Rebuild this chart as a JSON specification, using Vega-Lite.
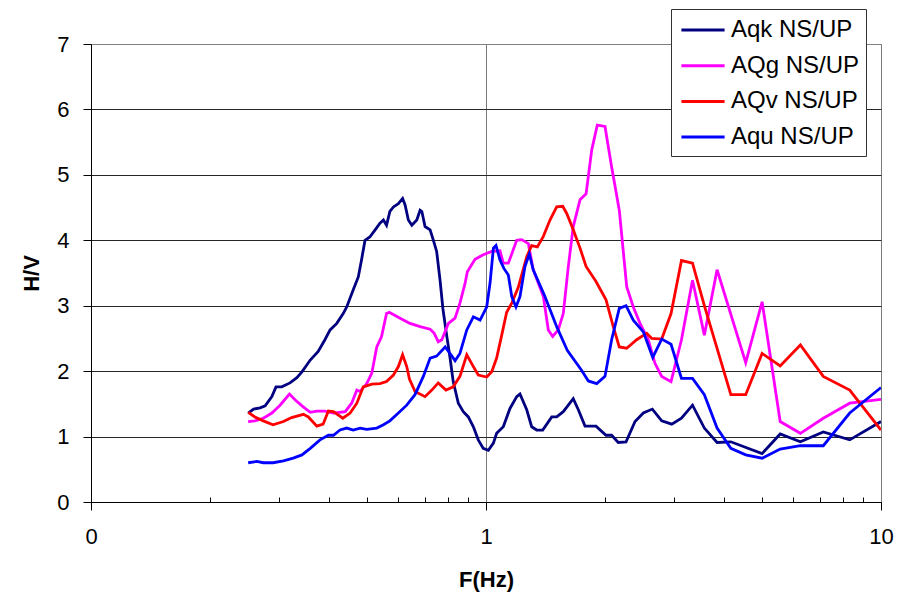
{
  "$schema": "https://vega.github.io/schema/vega-lite/v6.json",
  "width": 790,
  "height": 458,
  "autosize": {"type": "none"},
  "padding": {"left": 91, "top": 44, "right": 31, "bottom": 97},
  "background": "white",
  "config": {
    "font": "Liberation Sans",
    "view": {"stroke": "#808080", "strokeWidth": 1},
    "axis": {
      "labelFont": "Liberation Sans",
      "titleFont": "Liberation Sans",
      "labelColor": "#000",
      "titleColor": "#000",
      "domainColor": "#000",
      "tickColor": "#000"
    }
  },
  "data": {
    "values": [
      {"s": "Aqk NS/UP", "f": 0.25, "hv": 1.36}, {"s": "Aqk NS/UP", "f": 0.258, "hv": 1.42}, {"s": "Aqk NS/UP", "f": 0.268, "hv": 1.44},
      {"s": "Aqk NS/UP", "f": 0.276, "hv": 1.47}, {"s": "Aqk NS/UP", "f": 0.287, "hv": 1.61}, {"s": "Aqk NS/UP", "f": 0.294, "hv": 1.76},
      {"s": "Aqk NS/UP", "f": 0.304, "hv": 1.76}, {"s": "Aqk NS/UP", "f": 0.319, "hv": 1.82}, {"s": "Aqk NS/UP", "f": 0.332, "hv": 1.9},
      {"s": "Aqk NS/UP", "f": 0.342, "hv": 1.99}, {"s": "Aqk NS/UP", "f": 0.359, "hv": 2.17}, {"s": "Aqk NS/UP", "f": 0.376, "hv": 2.3},
      {"s": "Aqk NS/UP", "f": 0.391, "hv": 2.48}, {"s": "Aqk NS/UP", "f": 0.403, "hv": 2.63}, {"s": "Aqk NS/UP", "f": 0.419, "hv": 2.73},
      {"s": "Aqk NS/UP", "f": 0.435, "hv": 2.88}, {"s": "Aqk NS/UP", "f": 0.444, "hv": 2.98}, {"s": "Aqk NS/UP", "f": 0.461, "hv": 3.24},
      {"s": "Aqk NS/UP", "f": 0.475, "hv": 3.44}, {"s": "Aqk NS/UP", "f": 0.484, "hv": 3.7}, {"s": "Aqk NS/UP", "f": 0.494, "hv": 4.0},
      {"s": "Aqk NS/UP", "f": 0.508, "hv": 4.05}, {"s": "Aqk NS/UP", "f": 0.524, "hv": 4.16}, {"s": "Aqk NS/UP", "f": 0.539, "hv": 4.26},
      {"s": "Aqk NS/UP", "f": 0.55, "hv": 4.31}, {"s": "Aqk NS/UP", "f": 0.56, "hv": 4.23}, {"s": "Aqk NS/UP", "f": 0.571, "hv": 4.44},
      {"s": "Aqk NS/UP", "f": 0.583, "hv": 4.51}, {"s": "Aqk NS/UP", "f": 0.6, "hv": 4.56}, {"s": "Aqk NS/UP", "f": 0.615, "hv": 4.64},
      {"s": "Aqk NS/UP", "f": 0.624, "hv": 4.54}, {"s": "Aqk NS/UP", "f": 0.636, "hv": 4.31}, {"s": "Aqk NS/UP", "f": 0.649, "hv": 4.23},
      {"s": "Aqk NS/UP", "f": 0.668, "hv": 4.31}, {"s": "Aqk NS/UP", "f": 0.681, "hv": 4.46}, {"s": "Aqk NS/UP", "f": 0.688, "hv": 4.44},
      {"s": "Aqk NS/UP", "f": 0.701, "hv": 4.21}, {"s": "Aqk NS/UP", "f": 0.722, "hv": 4.16}, {"s": "Aqk NS/UP", "f": 0.736, "hv": 4.0},
      {"s": "Aqk NS/UP", "f": 0.75, "hv": 3.83}, {"s": "Aqk NS/UP", "f": 0.765, "hv": 3.39}, {"s": "Aqk NS/UP", "f": 0.778, "hv": 2.95},
      {"s": "Aqk NS/UP", "f": 0.795, "hv": 2.55}, {"s": "Aqk NS/UP", "f": 0.811, "hv": 2.2}, {"s": "Aqk NS/UP", "f": 0.826, "hv": 1.84},
      {"s": "Aqk NS/UP", "f": 0.851, "hv": 1.51}, {"s": "Aqk NS/UP", "f": 0.876, "hv": 1.38}, {"s": "Aqk NS/UP", "f": 0.902, "hv": 1.3},
      {"s": "Aqk NS/UP", "f": 0.929, "hv": 1.15}, {"s": "Aqk NS/UP", "f": 0.956, "hv": 0.95}, {"s": "Aqk NS/UP", "f": 0.984, "hv": 0.82},
      {"s": "Aqk NS/UP", "f": 1.014, "hv": 0.79}, {"s": "Aqk NS/UP", "f": 1.044, "hv": 0.9}, {"s": "Aqk NS/UP", "f": 1.064, "hv": 1.05},
      {"s": "Aqk NS/UP", "f": 1.106, "hv": 1.15}, {"s": "Aqk NS/UP", "f": 1.15, "hv": 1.43}, {"s": "Aqk NS/UP", "f": 1.196, "hv": 1.61},
      {"s": "Aqk NS/UP", "f": 1.219, "hv": 1.65}, {"s": "Aqk NS/UP", "f": 1.268, "hv": 1.41}, {"s": "Aqk NS/UP", "f": 1.305, "hv": 1.15},
      {"s": "Aqk NS/UP", "f": 1.344, "hv": 1.1}, {"s": "Aqk NS/UP", "f": 1.392, "hv": 1.1}, {"s": "Aqk NS/UP", "f": 1.467, "hv": 1.3},
      {"s": "Aqk NS/UP", "f": 1.51, "hv": 1.3}, {"s": "Aqk NS/UP", "f": 1.569, "hv": 1.38}, {"s": "Aqk NS/UP", "f": 1.663, "hv": 1.58},
      {"s": "Aqk NS/UP", "f": 1.713, "hv": 1.41}, {"s": "Aqk NS/UP", "f": 1.781, "hv": 1.16}, {"s": "Aqk NS/UP", "f": 1.899, "hv": 1.16},
      {"s": "Aqk NS/UP", "f": 2.013, "hv": 1.02}, {"s": "Aqk NS/UP", "f": 2.08, "hv": 1.02}, {"s": "Aqk NS/UP", "f": 2.162, "hv": 0.91},
      {"s": "Aqk NS/UP", "f": 2.262, "hv": 0.92}, {"s": "Aqk NS/UP", "f": 2.384, "hv": 1.23}, {"s": "Aqk NS/UP", "f": 2.502, "hv": 1.36},
      {"s": "Aqk NS/UP", "f": 2.637, "hv": 1.42}, {"s": "Aqk NS/UP", "f": 2.785, "hv": 1.24}, {"s": "Aqk NS/UP", "f": 2.953, "hv": 1.19},
      {"s": "Aqk NS/UP", "f": 3.125, "hv": 1.28}, {"s": "Aqk NS/UP", "f": 3.333, "hv": 1.48}, {"s": "Aqk NS/UP", "f": 3.571, "hv": 1.13},
      {"s": "Aqk NS/UP", "f": 3.846, "hv": 0.91}, {"s": "Aqk NS/UP", "f": 4.167, "hv": 0.92}, {"s": "Aqk NS/UP", "f": 5.0, "hv": 0.74},
      {"s": "Aqk NS/UP", "f": 5.556, "hv": 1.04}, {"s": "Aqk NS/UP", "f": 6.25, "hv": 0.92}, {"s": "Aqk NS/UP", "f": 7.143, "hv": 1.07},
      {"s": "Aqk NS/UP", "f": 8.333, "hv": 0.95}, {"s": "Aqk NS/UP", "f": 10, "hv": 1.23},

      {"s": "AQg NS/UP", "f": 0.25, "hv": 1.23}, {"s": "AQg NS/UP", "f": 0.26, "hv": 1.24}, {"s": "AQg NS/UP", "f": 0.273, "hv": 1.28},
      {"s": "AQg NS/UP", "f": 0.287, "hv": 1.36}, {"s": "AQg NS/UP", "f": 0.301, "hv": 1.48}, {"s": "AQg NS/UP", "f": 0.318, "hv": 1.65},
      {"s": "AQg NS/UP", "f": 0.329, "hv": 1.56}, {"s": "AQg NS/UP", "f": 0.342, "hv": 1.47}, {"s": "AQg NS/UP", "f": 0.359, "hv": 1.37},
      {"s": "AQg NS/UP", "f": 0.373, "hv": 1.39}, {"s": "AQg NS/UP", "f": 0.391, "hv": 1.39}, {"s": "AQg NS/UP", "f": 0.411, "hv": 1.36},
      {"s": "AQg NS/UP", "f": 0.44, "hv": 1.38}, {"s": "AQg NS/UP", "f": 0.457, "hv": 1.51}, {"s": "AQg NS/UP", "f": 0.471, "hv": 1.71},
      {"s": "AQg NS/UP", "f": 0.48, "hv": 1.69}, {"s": "AQg NS/UP", "f": 0.499, "hv": 1.81}, {"s": "AQg NS/UP", "f": 0.514, "hv": 1.97},
      {"s": "AQg NS/UP", "f": 0.529, "hv": 2.37}, {"s": "AQg NS/UP", "f": 0.544, "hv": 2.53}, {"s": "AQg NS/UP", "f": 0.56, "hv": 2.88},
      {"s": "AQg NS/UP", "f": 0.569, "hv": 2.9}, {"s": "AQg NS/UP", "f": 0.606, "hv": 2.81}, {"s": "AQg NS/UP", "f": 0.642, "hv": 2.73},
      {"s": "AQg NS/UP", "f": 0.681, "hv": 2.68}, {"s": "AQg NS/UP", "f": 0.722, "hv": 2.64}, {"s": "AQg NS/UP", "f": 0.739, "hv": 2.58},
      {"s": "AQg NS/UP", "f": 0.757, "hv": 2.45}, {"s": "AQg NS/UP", "f": 0.773, "hv": 2.48}, {"s": "AQg NS/UP", "f": 0.803, "hv": 2.73},
      {"s": "AQg NS/UP", "f": 0.835, "hv": 2.81}, {"s": "AQg NS/UP", "f": 0.859, "hv": 3.04}, {"s": "AQg NS/UP", "f": 0.885, "hv": 3.34},
      {"s": "AQg NS/UP", "f": 0.897, "hv": 3.52}, {"s": "AQg NS/UP", "f": 0.938, "hv": 3.71}, {"s": "AQg NS/UP", "f": 0.984, "hv": 3.78},
      {"s": "AQg NS/UP", "f": 1.034, "hv": 3.83}, {"s": "AQg NS/UP", "f": 1.085, "hv": 3.84}, {"s": "AQg NS/UP", "f": 1.106, "hv": 3.65},
      {"s": "AQg NS/UP", "f": 1.139, "hv": 3.65}, {"s": "AQg NS/UP", "f": 1.196, "hv": 4.0}, {"s": "AQg NS/UP", "f": 1.231, "hv": 4.01},
      {"s": "AQg NS/UP", "f": 1.28, "hv": 3.95}, {"s": "AQg NS/UP", "f": 1.317, "hv": 3.55}, {"s": "AQg NS/UP", "f": 1.397, "hv": 3.14},
      {"s": "AQg NS/UP", "f": 1.438, "hv": 2.63}, {"s": "AQg NS/UP", "f": 1.475, "hv": 2.53}, {"s": "AQg NS/UP", "f": 1.524, "hv": 2.63},
      {"s": "AQg NS/UP", "f": 1.569, "hv": 2.88}, {"s": "AQg NS/UP", "f": 1.616, "hv": 3.6}, {"s": "AQg NS/UP", "f": 1.663, "hv": 4.21},
      {"s": "AQg NS/UP", "f": 1.73, "hv": 4.62}, {"s": "AQg NS/UP", "f": 1.792, "hv": 4.71}, {"s": "AQg NS/UP", "f": 1.852, "hv": 5.38},
      {"s": "AQg NS/UP", "f": 1.913, "hv": 5.76}, {"s": "AQg NS/UP", "f": 2.001, "hv": 5.74}, {"s": "AQg NS/UP", "f": 2.08, "hv": 5.12},
      {"s": "AQg NS/UP", "f": 2.175, "hv": 4.46}, {"s": "AQg NS/UP", "f": 2.271, "hv": 3.29}, {"s": "AQg NS/UP", "f": 2.36, "hv": 2.98},
      {"s": "AQg NS/UP", "f": 2.454, "hv": 2.73}, {"s": "AQg NS/UP", "f": 2.576, "hv": 2.48}, {"s": "AQg NS/UP", "f": 2.678, "hv": 2.12},
      {"s": "AQg NS/UP", "f": 2.785, "hv": 1.92}, {"s": "AQg NS/UP", "f": 2.941, "hv": 1.84}, {"s": "AQg NS/UP", "f": 3.125, "hv": 2.48},
      {"s": "AQg NS/UP", "f": 3.333, "hv": 3.39}, {"s": "AQg NS/UP", "f": 3.571, "hv": 2.55}, {"s": "AQg NS/UP", "f": 3.846, "hv": 3.55},
      {"s": "AQg NS/UP", "f": 4.545, "hv": 2.13}, {"s": "AQg NS/UP", "f": 5.0, "hv": 3.06}, {"s": "AQg NS/UP", "f": 5.556, "hv": 1.23},
      {"s": "AQg NS/UP", "f": 6.25, "hv": 1.05}, {"s": "AQg NS/UP", "f": 7.143, "hv": 1.28}, {"s": "AQg NS/UP", "f": 8.333, "hv": 1.51},
      {"s": "AQg NS/UP", "f": 10, "hv": 1.57},

      {"s": "AQv NS/UP", "f": 0.25, "hv": 1.37}, {"s": "AQv NS/UP", "f": 0.26, "hv": 1.3}, {"s": "AQv NS/UP", "f": 0.273, "hv": 1.24},
      {"s": "AQv NS/UP", "f": 0.289, "hv": 1.18}, {"s": "AQv NS/UP", "f": 0.307, "hv": 1.23}, {"s": "AQv NS/UP", "f": 0.322, "hv": 1.29},
      {"s": "AQv NS/UP", "f": 0.345, "hv": 1.34}, {"s": "AQv NS/UP", "f": 0.355, "hv": 1.3}, {"s": "AQv NS/UP", "f": 0.373, "hv": 1.16},
      {"s": "AQv NS/UP", "f": 0.387, "hv": 1.19}, {"s": "AQv NS/UP", "f": 0.399, "hv": 1.39}, {"s": "AQv NS/UP", "f": 0.411, "hv": 1.38},
      {"s": "AQv NS/UP", "f": 0.434, "hv": 1.28}, {"s": "AQv NS/UP", "f": 0.453, "hv": 1.36}, {"s": "AQv NS/UP", "f": 0.471, "hv": 1.51},
      {"s": "AQv NS/UP", "f": 0.489, "hv": 1.76}, {"s": "AQv NS/UP", "f": 0.514, "hv": 1.8}, {"s": "AQv NS/UP", "f": 0.539, "hv": 1.81},
      {"s": "AQv NS/UP", "f": 0.56, "hv": 1.84}, {"s": "AQv NS/UP", "f": 0.583, "hv": 1.94}, {"s": "AQv NS/UP", "f": 0.6, "hv": 2.07},
      {"s": "AQv NS/UP", "f": 0.615, "hv": 2.25}, {"s": "AQv NS/UP", "f": 0.63, "hv": 2.07}, {"s": "AQv NS/UP", "f": 0.64, "hv": 1.88},
      {"s": "AQv NS/UP", "f": 0.661, "hv": 1.69}, {"s": "AQv NS/UP", "f": 0.701, "hv": 1.61}, {"s": "AQv NS/UP", "f": 0.729, "hv": 1.71},
      {"s": "AQv NS/UP", "f": 0.757, "hv": 1.82}, {"s": "AQv NS/UP", "f": 0.792, "hv": 1.71}, {"s": "AQv NS/UP", "f": 0.826, "hv": 1.76},
      {"s": "AQv NS/UP", "f": 0.859, "hv": 1.92}, {"s": "AQv NS/UP", "f": 0.894, "hv": 2.25}, {"s": "AQv NS/UP", "f": 0.929, "hv": 2.07},
      {"s": "AQv NS/UP", "f": 0.956, "hv": 1.94}, {"s": "AQv NS/UP", "f": 1.004, "hv": 1.91}, {"s": "AQv NS/UP", "f": 1.034, "hv": 1.99},
      {"s": "AQv NS/UP", "f": 1.064, "hv": 2.2}, {"s": "AQv NS/UP", "f": 1.096, "hv": 2.55}, {"s": "AQv NS/UP", "f": 1.128, "hv": 2.9},
      {"s": "AQv NS/UP", "f": 1.162, "hv": 3.04}, {"s": "AQv NS/UP", "f": 1.207, "hv": 3.28}, {"s": "AQv NS/UP", "f": 1.268, "hv": 3.75},
      {"s": "AQv NS/UP", "f": 1.305, "hv": 3.92}, {"s": "AQv NS/UP", "f": 1.349, "hv": 3.9}, {"s": "AQv NS/UP", "f": 1.397, "hv": 4.06},
      {"s": "AQv NS/UP", "f": 1.452, "hv": 4.31}, {"s": "AQv NS/UP", "f": 1.51, "hv": 4.51}, {"s": "AQv NS/UP", "f": 1.564, "hv": 4.52},
      {"s": "AQv NS/UP", "f": 1.601, "hv": 4.41}, {"s": "AQv NS/UP", "f": 1.663, "hv": 4.16}, {"s": "AQv NS/UP", "f": 1.73, "hv": 3.88},
      {"s": "AQv NS/UP", "f": 1.792, "hv": 3.6}, {"s": "AQv NS/UP", "f": 1.899, "hv": 3.37}, {"s": "AQv NS/UP", "f": 2.013, "hv": 3.09},
      {"s": "AQv NS/UP", "f": 2.1, "hv": 2.68}, {"s": "AQv NS/UP", "f": 2.175, "hv": 2.37}, {"s": "AQv NS/UP", "f": 2.271, "hv": 2.35},
      {"s": "AQv NS/UP", "f": 2.407, "hv": 2.48}, {"s": "AQv NS/UP", "f": 2.552, "hv": 2.58}, {"s": "AQv NS/UP", "f": 2.628, "hv": 2.5},
      {"s": "AQv NS/UP", "f": 2.785, "hv": 2.49}, {"s": "AQv NS/UP", "f": 2.941, "hv": 2.88}, {"s": "AQv NS/UP", "f": 3.125, "hv": 3.69},
      {"s": "AQv NS/UP", "f": 3.333, "hv": 3.65}, {"s": "AQv NS/UP", "f": 3.571, "hv": 3.0}, {"s": "AQv NS/UP", "f": 4.167, "hv": 1.64},
      {"s": "AQv NS/UP", "f": 4.545, "hv": 1.64}, {"s": "AQv NS/UP", "f": 5.0, "hv": 2.27}, {"s": "AQv NS/UP", "f": 5.556, "hv": 2.08},
      {"s": "AQv NS/UP", "f": 6.25, "hv": 2.4}, {"s": "AQv NS/UP", "f": 7.143, "hv": 1.92}, {"s": "AQv NS/UP", "f": 8.333, "hv": 1.71},
      {"s": "AQv NS/UP", "f": 10, "hv": 1.1},

      {"s": "Aqu NS/UP", "f": 0.25, "hv": 0.6}, {"s": "Aqu NS/UP", "f": 0.263, "hv": 0.62}, {"s": "Aqu NS/UP", "f": 0.273, "hv": 0.6},
      {"s": "Aqu NS/UP", "f": 0.289, "hv": 0.6}, {"s": "Aqu NS/UP", "f": 0.307, "hv": 0.63}, {"s": "Aqu NS/UP", "f": 0.325, "hv": 0.67},
      {"s": "Aqu NS/UP", "f": 0.342, "hv": 0.72}, {"s": "Aqu NS/UP", "f": 0.359, "hv": 0.82}, {"s": "Aqu NS/UP", "f": 0.38, "hv": 0.95},
      {"s": "Aqu NS/UP", "f": 0.399, "hv": 1.02}, {"s": "Aqu NS/UP", "f": 0.411, "hv": 1.02}, {"s": "Aqu NS/UP", "f": 0.427, "hv": 1.1},
      {"s": "Aqu NS/UP", "f": 0.444, "hv": 1.13}, {"s": "Aqu NS/UP", "f": 0.461, "hv": 1.1}, {"s": "Aqu NS/UP", "f": 0.48, "hv": 1.13},
      {"s": "Aqu NS/UP", "f": 0.499, "hv": 1.11}, {"s": "Aqu NS/UP", "f": 0.529, "hv": 1.13}, {"s": "Aqu NS/UP", "f": 0.55, "hv": 1.18},
      {"s": "Aqu NS/UP", "f": 0.571, "hv": 1.24}, {"s": "Aqu NS/UP", "f": 0.6, "hv": 1.36}, {"s": "Aqu NS/UP", "f": 0.63, "hv": 1.48},
      {"s": "Aqu NS/UP", "f": 0.661, "hv": 1.64}, {"s": "Aqu NS/UP", "f": 0.694, "hv": 1.92}, {"s": "Aqu NS/UP", "f": 0.722, "hv": 2.2},
      {"s": "Aqu NS/UP", "f": 0.75, "hv": 2.23}, {"s": "Aqu NS/UP", "f": 0.788, "hv": 2.37}, {"s": "Aqu NS/UP", "f": 0.811, "hv": 2.27},
      {"s": "Aqu NS/UP", "f": 0.835, "hv": 2.16}, {"s": "Aqu NS/UP", "f": 0.859, "hv": 2.27}, {"s": "Aqu NS/UP", "f": 0.894, "hv": 2.63},
      {"s": "Aqu NS/UP", "f": 0.929, "hv": 2.83}, {"s": "Aqu NS/UP", "f": 0.966, "hv": 2.78}, {"s": "Aqu NS/UP", "f": 1.004, "hv": 2.98},
      {"s": "Aqu NS/UP", "f": 1.024, "hv": 3.35}, {"s": "Aqu NS/UP", "f": 1.044, "hv": 3.88}, {"s": "Aqu NS/UP", "f": 1.06, "hv": 3.92},
      {"s": "Aqu NS/UP", "f": 1.085, "hv": 3.7}, {"s": "Aqu NS/UP", "f": 1.11, "hv": 3.57}, {"s": "Aqu NS/UP", "f": 1.139, "hv": 3.47},
      {"s": "Aqu NS/UP", "f": 1.162, "hv": 3.14}, {"s": "Aqu NS/UP", "f": 1.191, "hv": 2.98}, {"s": "Aqu NS/UP", "f": 1.219, "hv": 3.14},
      {"s": "Aqu NS/UP", "f": 1.255, "hv": 3.6}, {"s": "Aqu NS/UP", "f": 1.287, "hv": 3.79}, {"s": "Aqu NS/UP", "f": 1.317, "hv": 3.55},
      {"s": "Aqu NS/UP", "f": 1.41, "hv": 3.14}, {"s": "Aqu NS/UP", "f": 1.51, "hv": 2.68}, {"s": "Aqu NS/UP", "f": 1.606, "hv": 2.32},
      {"s": "Aqu NS/UP", "f": 1.747, "hv": 2.01}, {"s": "Aqu NS/UP", "f": 1.816, "hv": 1.85}, {"s": "Aqu NS/UP", "f": 1.907, "hv": 1.81},
      {"s": "Aqu NS/UP", "f": 2.001, "hv": 1.92}, {"s": "Aqu NS/UP", "f": 2.08, "hv": 2.48}, {"s": "Aqu NS/UP", "f": 2.175, "hv": 2.96},
      {"s": "Aqu NS/UP", "f": 2.262, "hv": 3.0}, {"s": "Aqu NS/UP", "f": 2.36, "hv": 2.78}, {"s": "Aqu NS/UP", "f": 2.502, "hv": 2.6},
      {"s": "Aqu NS/UP", "f": 2.643, "hv": 2.21}, {"s": "Aqu NS/UP", "f": 2.785, "hv": 2.49}, {"s": "Aqu NS/UP", "f": 2.941, "hv": 2.41},
      {"s": "Aqu NS/UP", "f": 3.125, "hv": 1.89}, {"s": "Aqu NS/UP", "f": 3.333, "hv": 1.89}, {"s": "Aqu NS/UP", "f": 3.571, "hv": 1.64},
      {"s": "Aqu NS/UP", "f": 3.846, "hv": 1.13}, {"s": "Aqu NS/UP", "f": 4.167, "hv": 0.82}, {"s": "Aqu NS/UP", "f": 4.545, "hv": 0.72},
      {"s": "Aqu NS/UP", "f": 5.0, "hv": 0.67}, {"s": "Aqu NS/UP", "f": 5.556, "hv": 0.81}, {"s": "Aqu NS/UP", "f": 6.25, "hv": 0.86},
      {"s": "Aqu NS/UP", "f": 7.143, "hv": 0.86}, {"s": "Aqu NS/UP", "f": 8.333, "hv": 1.36}, {"s": "Aqu NS/UP", "f": 10, "hv": 1.75}
    ]
  },
  "layer": [
    {
      "mark": {"type": "line", "strokeWidth": 2.8, "clip": true},
      "encoding": {
        "x": {
          "field": "f",
          "type": "quantitative",
          "scale": {"type": "log", "domain": [0.1, 10], "nice": false},
          "axis": {
            "title": "F(Hz)",
            "values": [0.1, 1, 10],
            "labelExpr": "datum.value < 0.5 ? '0' : datum.value < 5 ? '1' : '10'",
            "labelFlush": false,
            "labelOverlap": false,
            "labelFontSize": 22,
            "labelPadding": 16,
            "tickSize": 8,
            "grid": true,
            "gridColor": "#7a7a7a",
            "titleFontSize": 22,
            "titleFontWeight": "bold",
            "titleBaseline": "alphabetic",
            "titleY": 84
          }
        },
        "y": {
          "field": "hv",
          "type": "quantitative",
          "scale": {"domain": [0, 7], "nice": false},
          "axis": {
            "title": "H/V",
            "values": [0, 1, 2, 3, 4, 5, 6, 7],
            "labelFontSize": 22,
            "labelPadding": 14,
            "tickSize": 8,
            "grid": true,
            "gridColor": {"condition": {"test": "datum.value == 7", "value": "#808080"}, "value": "#262626"},
            "titleFontSize": 22,
            "titleFontWeight": "bold",
            "titleAngle": -90,
            "titleAlign": "center",
            "titleBaseline": "alphabetic",
            "titleX": -53,
            "titleY": 229
          }
        },
        "color": {
          "field": "s",
          "type": "nominal",
          "scale": {
            "domain": ["Aqk NS/UP", "AQg NS/UP", "AQv NS/UP", "Aqu NS/UP"],
            "range": ["#000080", "#ff00ff", "#ff0000", "#0000ff"]
          },
          "legend": {
            "title": null,
            "orient": "none",
            "legendX": 580,
            "legendY": -35,
            "fillColor": "white",
            "strokeColor": "#333333",
            "padding": 6,
            "symbolType": "M-1.6,0H1.6",
            "symbolSize": 729,
            "symbolOffset": 11,
            "symbolStrokeWidth": 3,
            "labelFont": "Liberation Sans",
            "labelFontSize": 24,
            "labelColor": "#000",
            "labelOffset": 13,
            "rowPadding": 8.7
          }
        }
      }
    },
    {
      "mark": {"type": "point", "opacity": 0},
      "encoding": {
        "x": {
          "field": "f",
          "type": "quantitative",
          "axis": {
            "orient": "bottom",
            "title": null,
            "values": [0.2, 0.3, 0.4, 0.5, 0.6, 0.7, 0.8, 0.9, 2, 3, 4, 5, 6, 7, 8, 9],
            "labels": false,
            "domain": false,
            "grid": false,
            "tickSize": -5
          }
        }
      }
    }
  ],
  "resolve": {"axis": {"x": "independent"}}
}
